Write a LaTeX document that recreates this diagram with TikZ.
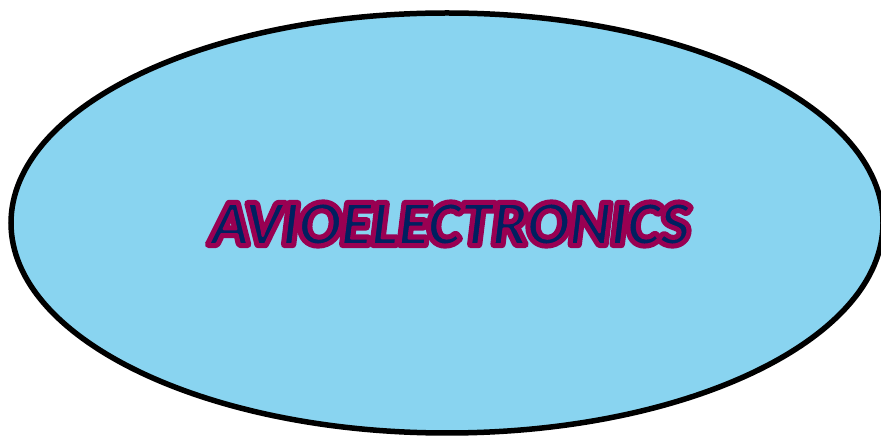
\documentclass[tikz,border=0pt]{standalone}
\usepackage{fontspec}
\usepackage{xcolor}
\usetikzlibrary{shapes.geometric}
\newfontfamily\carlito{Carlito}
\definecolor{skyfill}{RGB}{137,212,240}
\definecolor{wordrim}{RGB}{153,  0, 82}
\definecolor{wordnavy}{RGB}{ 0, 32, 96}
%% text drawn in render mode 2 (fill + stroke) with given stroke width
\newcommand\strokedtext[2]{\special{pdf:literal direct 2 Tr #1 w 1 j}#2\special{pdf:literal direct 0 Tr}}
\tikzset{
    oval/.style={ellipse, draw=black, line width=5.5pt, fill=skyfill,
        minimum width=872pt, minimum height=420pt, inner sep=0pt},
    wordart/.style={font=\carlito\bfseries\itshape\fontsize{63}{63}\selectfont, inner sep=0pt},
}
\begin{document}
\begin{tikzpicture}

    %% page frame
    \useasboundingbox (0,0) rectangle (881pt,436pt);

    %% the oval
    \node[oval] (oval) at (447pt,213pt) {};

    %% outer rim of the lettering, then the letters
    \node[wordart, text=wordrim] (rim) at ([xshift=3pt,yshift=-1pt]oval.center)
        {\strokedtext{7.5}{AVIOELECTRONICS}};
    \node[wordart, text=wordnavy] (word) at (rim.center)
        {\special{pdf:literal direct 0.6 0 0.32 RG}\strokedtext{2.6}{AVIOELECTRONICS}};

\end{tikzpicture}
\end{document}
